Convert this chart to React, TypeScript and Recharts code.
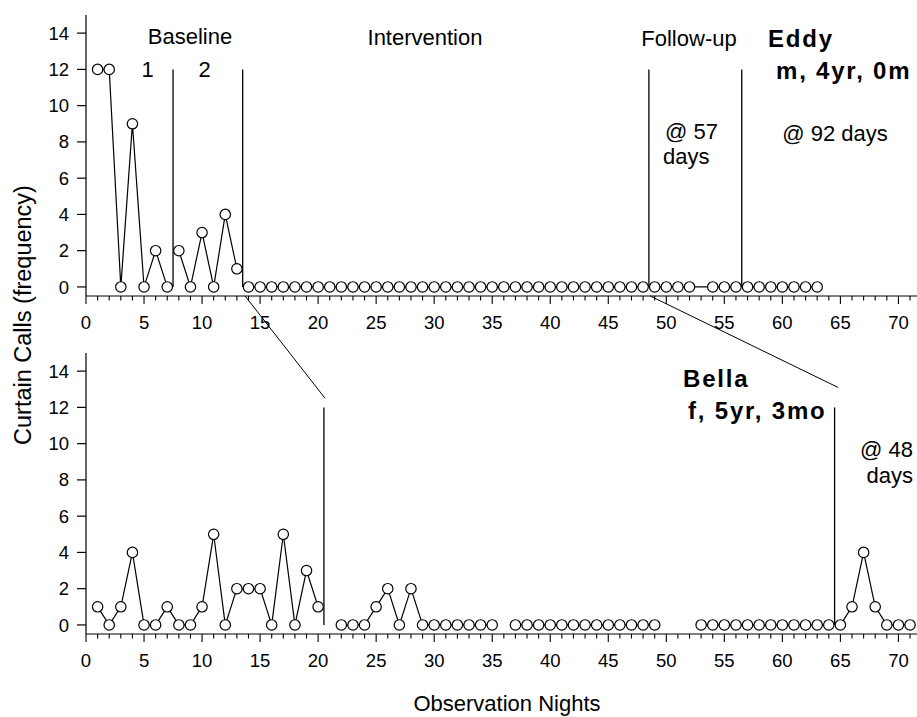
import { LineChart, Line, XAxis, YAxis, ReferenceLine } from 'recharts';

// observation nights shown on the x axis
const nights = [
  1, 2, 3, 4, 5, 6, 7, 8, 9, 10, 11, 12, 13, 14, 15, 16, 17, 18, 19, 20,
  21, 22, 23, 24, 25, 26, 27, 28, 29, 30, 31, 32, 33, 34, 35, 36, 37, 38, 39, 40,
  41, 42, 43, 44, 45, 46, 47, 48, 49, 50, 51, 52, 53, 54, 55, 56, 57, 58, 59, 60,
  61, 62, 63, 64, 65, 66, 67, 68, 69, 70, 71,
];

// curtain calls per night (null = no observation)
const eddyCalls = [
  12, 12, 0, 9, 0, 2, 0,
  2, 0, 3, 0, 4, 1,
  0, 0, 0, 0, 0, 0, 0, 0, 0, 0, 0, 0, 0, 0, 0, 0, 0, 0, 0, 0,
  0, 0, 0, 0, 0, 0, 0, 0, 0, 0, 0, 0, 0, 0, 0,
  0, 0, 0, 0, null, 0, 0, 0,
  0, 0, 0, 0, 0, 0, 0,
];
const bellaCalls = [
  1, 0, 1, 4, 0, 0, 1, 0, 0, 1, 5, 0, 2, 2, 2, 0, 5, 0, 3, 1,
  null,
  0, 0, 0, 1, 2, 0, 2, 0, 0, 0, 0, 0, 0, 0,
  null,
  0, 0, 0, 0, 0, 0, 0, 0, 0, 0, 0, 0, 0,
  null, null, null,
  0, 0, 0, 0, 0, 0, 0, 0, 0, 0, 0, 0,
  0, 1, 4, 1, 0, 0, 0,
];

// phase change lines (between nights)
const eddyPhaseBreaks = [7.5, 13.5, 48.5, 56.5];
const bellaPhaseBreaks = [20.5, 64.5];
// phases whose missing nights are still joined by the line
const eddyBridgedPhases = [3];
const bellaBridgedPhases: number[] = [];

const yTicks = [0, 2, 4, 6, 8, 10, 12, 14];
const xTicks = [0, ...nights];

// lines linking the phase changes of the two panels (bottom panel units)
const linkLines = [
  [{ x: 13.7, y: 18.15 }, { x: 20.6, y: 12.5 }],
  [{ x: 48.6, y: 18.15 }, { x: 64.8, y: 13.1 }],
];

const W = 917;
const FONT = '"Liberation Sans", Arial, Helvetica, sans-serif';

function buildRows(calls: (number | null)[], breaks: number[]) {
  return nights.map((night, i) => {
    const row: Record<string, number | null> = { night };
    const phase = breaks.filter(b => night > b).length;
    const v = i < calls.length ? calls[i] : null;
    for (let p = 0; p <= breaks.length; p++) row[`p${p}`] = p === phase ? v : null;
    return row;
  });
}

function NightTick(props: any) {
  const { x, y, payload } = props;
  const major = payload.value % 5 === 0;
  return (
    <g>
      <line x1={x} x2={x} y1={y} y2={y + (major ? 8 : 4.5)} stroke="#000" strokeWidth={1.1} />
      {major && (
        <text x={x} y={y + 20} dy="0.71em" textAnchor="middle" fontSize={18.5} fill="#000">
          {payload.value}
        </text>
      )}
    </g>
  );
}

function Panel({ calls, breaks, bridged, height, top, bottom, axisHeight, links }: any) {
  const rows = buildRows(calls, breaks);
  const phases = [...breaks, 999].map((_: number, p: number) => p);
  return (
    <LineChart width={W} height={height} data={rows} margin={{ top, right: 0, bottom, left: 0 }}>
      <XAxis
        type="number"
        dataKey="night"
        domain={[0, 71.6]}
        allowDataOverflow
        ticks={xTicks}
        interval={0}
        tickLine={false}
        tickSize={0}
        tickMargin={0}
        height={axisHeight}
        axisLine={{ stroke: '#000', strokeWidth: 1.2 }}
        tick={(p: any) => <NightTick {...p} />}
      />
      <YAxis
        type="number"
        domain={[-0.5, 15]}
        allowDataOverflow
        ticks={yTicks}
        interval={0}
        width={86}
        tickSize={9}
        tickMargin={8}
        tick={{ fontSize: 18.5, fill: '#000' }}
        tickLine={{ stroke: '#000', strokeWidth: 1.2 }}
        axisLine={{ stroke: '#000', strokeWidth: 1.2 }}
      />
      {breaks.map((b: number) => (
        <ReferenceLine
          key={b}
          segment={[{ x: b, y: 0 }, { x: b, y: 12 }]}
          stroke="#000"
          strokeWidth={1.3}
        />
      ))}
      {(links || []).map((seg: any, i: number) => (
        <ReferenceLine key={`l${i}`} segment={seg} ifOverflow="visible" stroke="#000" strokeWidth={1} />
      ))}
      {phases.map((p: number) => (
        <Line
          key={p}
          type="linear"
          dataKey={`p${p}`}
          stroke="#000"
          strokeWidth={1.2}
          connectNulls={bridged.includes(p)}
          dot={{ r: 5.2, fill: '#fff', stroke: '#000', strokeWidth: 1.2 }}
          activeDot={false}
          isAnimationActive={false}
        />
      ))}
    </LineChart>
  );
}

export default function App() {
  const reg = { fontSize: 22, fill: '#000' };
  const bold = { fontSize: 24, fontWeight: 700, letterSpacing: 1.8, fill: '#000' };
  return (
    <div style={{ position: 'absolute', left: 0, top: 0, width: W, height: 717, fontFamily: FONT, background: '#fff' }}>
      <div style={{ position: 'absolute', left: 0, top: 0 }}>
        <Panel calls={eddyCalls} breaks={eddyPhaseBreaks} bridged={eddyBridgedPhases} height={340} top={15} bottom={0} axisHeight={44} />
      </div>
      <div style={{ position: 'absolute', left: 0, top: 0 }}>
        <Panel
          calls={bellaCalls}
          breaks={bellaPhaseBreaks}
          bridged={bellaBridgedPhases}
          height={717}
          top={353}
          bottom={33}
          axisHeight={50}
          links={linkLines}
        />
      </div>
      <svg width={W} height={717} style={{ position: 'absolute', left: 0, top: 0, pointerEvents: 'none' }}>
        <text x={190} y={44} textAnchor="middle" {...reg}>Baseline</text>
        <text x={147.5} y={77} textAnchor="middle" {...reg}>1</text>
        <text x={204.7} y={77} textAnchor="middle" {...reg}>2</text>
        <text x={425} y={45} textAnchor="middle" {...reg}>Intervention</text>
        <text x={689} y={46} textAnchor="middle" {...reg}>Follow-up</text>
        <text x={665} y={139} {...reg}>@ 57</text>
        <text x={663} y={164} {...reg}>days</text>
        <text x={835} y={141} textAnchor="middle" {...reg}>@ 92 days</text>
        <text x={913} y={457} textAnchor="end" {...reg}>@ 48</text>
        <text x={913} y={483} textAnchor="end" {...reg}>days</text>
        <text x={768} y={47} {...bold}>Eddy</text>
        <text x={776} y={79} {...bold}>m, 4yr, 0m</text>
        <text x={683} y={387} {...bold}>Bella</text>
        <text x={688} y={419} {...bold}>f, 5yr, 3mo</text>
        <text x={507} y={711} textAnchor="middle" {...reg}>Observation Nights</text>
        <text x={30.5} y={315} textAnchor="middle" transform="rotate(-90 30.5 315)" fontSize={23.5} fill="#000">
          Curtain Calls (frequency)
        </text>
      </svg>
    </div>
  );
}
